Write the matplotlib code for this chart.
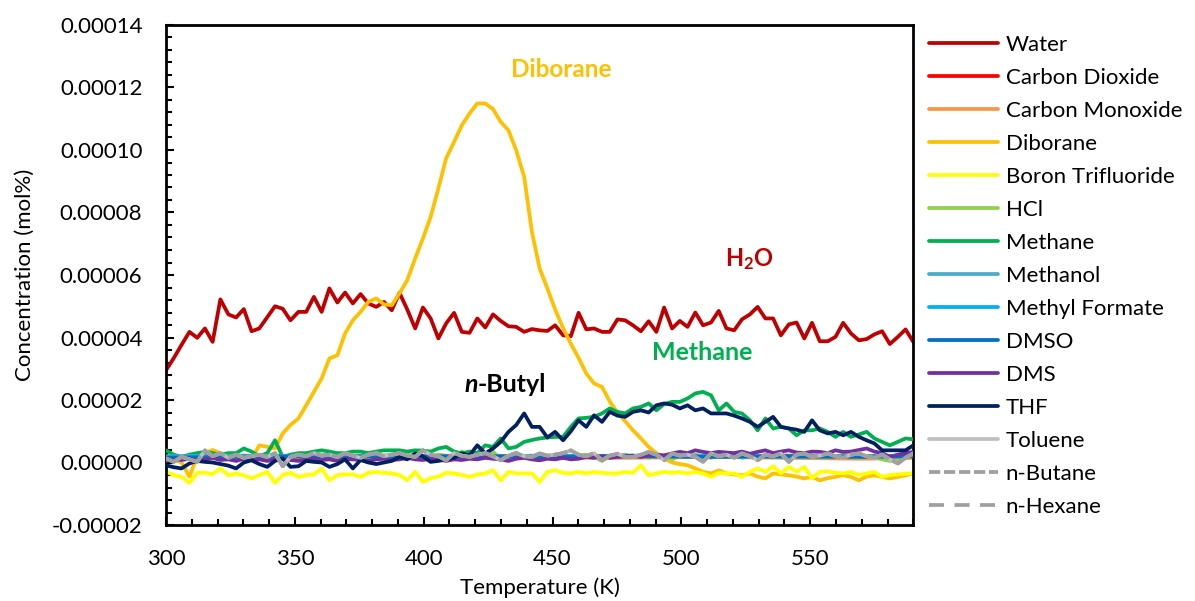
import numpy as np
import matplotlib
matplotlib.use('Agg')
import matplotlib.pyplot as plt
from matplotlib.ticker import MultipleLocator, FuncFormatter

plt.rcParams['font.family'] = ['Lato', 'DejaVu Sans']
plt.rcParams['mathtext.fontset'] = 'custom'
plt.rcParams['mathtext.rm'] = 'Lato'
plt.rcParams['mathtext.bf'] = 'Lato:bold'
plt.rcParams['mathtext.it'] = 'Lato:italic'

# Temperature grid (K)
TEMPERATURE = [
    300.0, 303.0, 306.0, 309.1, 312.1, 315.1, 318.1, 321.1, 324.2, 327.2,
    330.2, 333.2, 336.2, 339.3, 342.3, 345.3, 348.3, 351.4, 354.4, 357.4,
    360.4, 363.4, 366.5, 369.5, 372.5, 375.5, 378.5, 381.6, 384.6, 387.6,
    390.6, 393.6, 396.7, 399.7, 402.7, 405.7, 408.7, 411.8, 414.8, 417.8,
    420.8, 423.9, 426.9, 429.9, 432.9, 435.9, 439.0, 442.0, 445.0, 448.0,
    451.0, 454.1, 457.1, 460.1, 463.1, 466.1, 469.2, 472.2, 475.2, 478.2,
    481.2, 484.3, 487.3, 490.3, 493.3, 496.4, 499.4, 502.4, 505.4, 508.4,
    511.5, 514.5, 517.5, 520.5, 523.5, 526.6, 529.6, 532.6, 535.6, 538.6,
    541.7, 544.7, 547.7, 550.7, 553.7, 556.8, 559.8, 562.8, 565.8, 568.9,
    571.9, 574.9, 577.9, 580.9, 584.0, 587.0, 590.0]

# Concentrations in units of 1e-5 mol%
WATER = [
    2.95, 3.34, 3.76, 4.18, 3.99, 4.29, 3.86, 5.22, 4.74, 4.64,
    4.91, 4.20, 4.29, 4.65, 5.00, 4.92, 4.55, 4.82, 4.82, 5.30,
    4.82, 5.57, 5.12, 5.44, 5.09, 5.39, 5.09, 4.98, 5.14, 4.87,
    5.43, 4.90, 4.29, 4.96, 4.61, 3.97, 4.45, 4.79, 4.18, 4.15,
    4.61, 4.32, 4.74, 4.53, 4.36, 4.34, 4.18, 4.27, 4.23, 4.21,
    4.39, 4.07, 4.04, 4.79, 4.26, 4.29, 4.18, 4.18, 4.58, 4.55,
    4.39, 4.20, 4.52, 4.18, 4.96, 4.29, 4.53, 4.34, 4.80, 4.39,
    4.48, 4.85, 4.29, 4.23, 4.58, 4.74, 4.98, 4.61, 4.61, 4.07,
    4.42, 4.48, 3.97, 4.47, 3.88, 3.88, 4.02, 4.47, 4.13, 3.91,
    3.95, 4.10, 4.20, 3.79, 4.02, 4.26, 3.86]

DIBORANE = [
    0.30, 0.10, 0.00, -0.45, 0.20, 0.30, 0.40, 0.30, 0.20, 0.10,
    0.10, 0.10, 0.55, 0.50, 0.45, 0.93, 1.20, 1.41, 1.83, 2.26,
    2.69, 3.33, 3.43, 4.13, 4.55, 4.82, 5.14, 5.25, 5.06, 5.03,
    5.41, 5.83, 6.53, 7.17, 7.86, 8.77, 9.73, 10.26, 10.79, 11.17,
    11.49, 11.49, 11.31, 10.90, 10.63, 9.99, 9.14, 7.38, 6.21, 5.57,
    4.90, 4.30, 3.80, 3.35, 2.85, 2.53, 2.42, 1.95, 1.60, 1.32,
    1.03, 0.77, 0.50, 0.30, 0.13, 0.00, -0.05, -0.09, -0.19, -0.30,
    -0.35, -0.25, -0.35, -0.38, -0.41, -0.35, -0.45, -0.51, -0.35, -0.38,
    -0.41, -0.45, -0.51, -0.46, -0.57, -0.50, -0.46, -0.40, -0.46, -0.57,
    -0.45, -0.41, -0.46, -0.51, -0.46, -0.41, -0.35]

METHANE = [
    0.39, 0.25, 0.18, 0.25, 0.30, 0.34, 0.30, 0.25, 0.30, 0.30,
    0.45, 0.35, 0.20, 0.30, 0.71, 0.18, 0.25, 0.30, 0.30, 0.35,
    0.39, 0.35, 0.30, 0.30, 0.35, 0.35, 0.30, 0.35, 0.39, 0.39,
    0.39, 0.35, 0.39, 0.38, 0.35, 0.45, 0.50, 0.35, 0.29, 0.35,
    0.30, 0.55, 0.50, 0.77, 0.45, 0.50, 0.66, 0.72, 0.77, 0.80,
    0.82, 0.82, 1.14, 1.41, 1.43, 1.46, 1.57, 1.73, 1.62, 1.57,
    1.73, 1.78, 1.89, 1.67, 1.87, 1.94, 1.94, 2.05, 2.21, 2.26,
    2.15, 1.67, 1.89, 1.62, 1.57, 1.35, 1.03, 1.41, 1.09, 1.14,
    1.09, 0.87, 1.03, 1.03, 1.09, 0.98, 0.82, 0.98, 0.82, 0.90,
    0.98, 0.77, 0.66, 0.55, 0.66, 0.77, 0.74]

THF = [
    -0.09, -0.15, -0.19, -0.03, 0.05, 0.02, 0.00, -0.05, -0.10, -0.19,
    0.00, 0.07, -0.05, -0.14, 0.05, 0.13, -0.14, -0.12, 0.05, 0.02,
    0.00, -0.14, -0.05, 0.10, -0.19, 0.08, 0.00, -0.05, 0.00, 0.05,
    0.18, 0.10, 0.29, 0.20, 0.02, 0.05, 0.10, 0.15, 0.29, 0.23,
    0.55, 0.29, 0.45, 0.66, 0.98, 1.20, 1.57, 1.14, 1.14, 0.80,
    0.98, 0.71, 1.00, 1.35, 1.14, 1.51, 1.30, 1.62, 1.50, 1.46,
    1.62, 1.67, 1.60, 1.83, 1.89, 1.85, 1.73, 1.83, 1.67, 1.73,
    1.57, 1.57, 1.57, 1.50, 1.41, 1.30, 1.14, 1.30, 1.46, 1.14,
    1.09, 1.05, 0.98, 1.35, 1.03, 0.93, 0.98, 0.87, 0.98, 0.82,
    0.71, 0.61, 0.39, 0.39, 0.39, 0.39, 0.55]

BORON_TRIFLUORIDE = [
    -0.30, -0.40, -0.46, -0.65, -0.33, -0.33, -0.37, -0.19, -0.41, -0.35,
    -0.41, -0.51, -0.40, -0.30, -0.65, -0.40, -0.33, -0.46, -0.40, -0.38,
    -0.19, -0.57, -0.40, -0.38, -0.38, -0.46, -0.33, -0.30, -0.33, -0.35,
    -0.40, -0.57, -0.30, -0.62, -0.50, -0.45, -0.33, -0.35, -0.40, -0.46,
    -0.38, -0.35, -0.25, -0.57, -0.30, -0.35, -0.35, -0.35, -0.62, -0.30,
    -0.25, -0.33, -0.35, -0.30, -0.35, -0.30, -0.33, -0.35, -0.35, -0.30,
    -0.33, -0.09, -0.41, -0.35, -0.30, -0.33, -0.30, -0.35, -0.30, -0.35,
    -0.46, -0.33, -0.35, -0.35, -0.46, -0.30, -0.19, -0.30, -0.12, -0.35,
    -0.14, -0.30, -0.14, -0.51, -0.30, -0.28, -0.33, -0.35, -0.30, -0.40,
    -0.35, -0.30, -0.46, -0.40, -0.38, -0.36, -0.35]

DMS = [
    0.05, 0.10, 0.08, 0.12, 0.05, 0.10, 0.15, 0.08, 0.10, 0.05,
    0.12, 0.08, 0.10, 0.05, 0.10, 0.12, 0.08, 0.05, 0.10, 0.12,
    0.08, 0.10, 0.05, 0.12, 0.10, 0.08, 0.05, 0.10, 0.12, 0.08,
    0.10, 0.15, 0.10, 0.08, 0.12, 0.10, 0.05, 0.10, 0.08, 0.12,
    0.10, 0.15, 0.12, 0.10, 0.05, 0.12, 0.15, 0.10, 0.07, 0.12,
    0.10, 0.15, 0.10, 0.12, 0.18, 0.15, 0.20, 0.15, 0.18, 0.20,
    0.22, 0.18, 0.23, 0.25, 0.23, 0.29, 0.34, 0.30, 0.39, 0.34,
    0.30, 0.34, 0.32, 0.30, 0.35, 0.28, 0.34, 0.39, 0.30, 0.35,
    0.39, 0.32, 0.30, 0.35, 0.34, 0.30, 0.39, 0.34, 0.35, 0.40,
    0.45, 0.35, 0.30, 0.18, 0.25, 0.30, 0.34]

TOLUENE = [
    0.13, 0.02, 0.18, 0.10, 0.02, 0.39, 0.20, 0.30, 0.15, 0.25,
    0.15, 0.20, 0.25, 0.18, 0.30, -0.12, 0.18, 0.25, 0.20, 0.30,
    0.22, 0.25, 0.18, 0.30, 0.22, 0.15, 0.25, 0.30, 0.20, 0.25,
    0.30, 0.22, 0.18, 0.39, 0.25, 0.20, 0.07, 0.30, 0.22, 0.18,
    0.25, 0.30, 0.20, 0.07, 0.22, 0.30, 0.20, 0.18, 0.29, 0.22,
    0.25, 0.30, 0.39, 0.25, 0.20, 0.30, 0.07, 0.22, 0.28, 0.18,
    0.18, 0.25, 0.34, 0.25, 0.07, 0.29, 0.22, 0.25, 0.18, 0.02,
    0.29, 0.20, 0.25, 0.15, 0.29, 0.20, 0.07, 0.25, 0.20, 0.29,
    0.02, 0.25, 0.29, 0.18, 0.22, 0.29, 0.20, 0.15, 0.25, 0.29,
    0.20, 0.15, 0.25, 0.10, -0.03, 0.15, 0.29]

HCL = [
    0.20, 0.15, 0.10, 0.22, 0.25, 0.18, 0.22, 0.20, 0.15, 0.20,
    0.22, 0.18, 0.20, 0.25, 0.20, 0.18, 0.22, 0.20, 0.25, 0.20,
    0.18, 0.22, 0.25, 0.20, 0.18, 0.22, 0.25, 0.20, 0.22, 0.25,
    0.22, 0.25, 0.20, 0.22, 0.18, 0.25, 0.22, 0.20, 0.35, 0.25,
    0.20, 0.18, 0.35, 0.10, 0.15, 0.25, 0.20, 0.22, 0.15, 0.18,
    0.25, 0.20, 0.15, 0.22, 0.25, 0.18, 0.05, 0.20, 0.22, 0.25,
    0.18, 0.22, 0.15, 0.25, 0.20, 0.10, 0.22, 0.18, 0.25, 0.20,
    0.15, 0.22, 0.18, 0.25, 0.15, 0.20, 0.22, 0.18, 0.25, 0.20,
    0.15, 0.22, 0.25, 0.20, 0.15, 0.22, 0.18, 0.25, 0.20, 0.15,
    0.22, 0.18, 0.10, 0.05, 0.10, 0.18, 0.25]

N_BUTANE = TOLUENE
N_HEXANE = TOLUENE

# Minor species (mostly hidden beneath the baseline cluster)
T_MINOR = [300, 330, 360, 390, 420, 450, 480, 510, 540, 570, 590]
CARBON_DIOXIDE = [0.15, 0.20, 0.18, 0.20, 0.22, 0.20, 0.18, 0.20, 0.22, 0.20, 0.20]
CARBON_MONOXIDE = [0.10, 0.15, 0.12, 0.15, 0.18, 0.15, 0.15, 0.18, 0.15, 0.12, 0.15]
METHANOL = [0.20, 0.22, 0.20, 0.22, 0.20, 0.22, 0.20, 0.22, 0.20, 0.20, 0.22]
METHYL_FORMATE = [0.18, 0.20, 0.22, 0.20, 0.18, 0.20, 0.22, 0.20, 0.18, 0.20, 0.20]
DMSO = [0.15, 0.18, 0.20, 0.18, 0.20, 0.18, 0.20, 0.18, 0.20, 0.18, 0.20]

SCALE = 1e-5

SERIES = [
    ('Water', TEMPERATURE, WATER, '#C00000', '-'),
    ('Carbon Dioxide', T_MINOR, CARBON_DIOXIDE, '#FF0000', '-'),
    ('Carbon Monoxide', T_MINOR, CARBON_MONOXIDE, '#F79646', '-'),
    ('Diborane', TEMPERATURE, DIBORANE, '#FFC000', '-'),
    ('Boron Trifluoride', TEMPERATURE, BORON_TRIFLUORIDE, '#FFFF00', '-'),
    ('HCl', TEMPERATURE, HCL, '#92D050', '-'),
    ('Methane', TEMPERATURE, METHANE, '#00B050', '-'),
    ('Methanol', T_MINOR, METHANOL, '#4BACC6', '-'),
    ('Methyl Formate', T_MINOR, METHYL_FORMATE, '#00B0F0', '-'),
    ('DMSO', T_MINOR, DMSO, '#0070C0', '-'),
    ('DMS', TEMPERATURE, DMS, '#7030A0', '-'),
    ('THF', TEMPERATURE, THF, '#002060', '-'),
    ('Toluene', TEMPERATURE, TOLUENE, '#BFBFBF', '-'),
    ('n-Butane', TEMPERATURE, N_BUTANE, '#A0A0A0', (0, (3.0, 1.0))),
    ('n-Hexane', TEMPERATURE, N_HEXANE, '#A0A0A0', (0, (4.0, 2.8))),
]

W, H = 1195, 601
fig = plt.figure(figsize=(W / 100, H / 100), dpi=100)
ax = fig.add_axes([166 / W, 1 - 525 / H, (913.3 - 166) / W, (525 - 25) / H])

handles = []
for i, (name, t, vals, color, ls) in enumerate(SERIES):
    ln, = ax.plot(t, np.array(vals) * SCALE, color=color, lw=2.7,
                  linestyle=ls, label=name, zorder=2 + i * 0.1,
                  solid_joinstyle='round', solid_capstyle='round')
    handles.append(ln)

ax.set_xlim(300, 590)
ax.set_ylim(-0.00002, 0.00014)
ax.xaxis.set_major_locator(MultipleLocator(50))
ax.xaxis.set_minor_locator(MultipleLocator(10))
ax.yaxis.set_major_locator(MultipleLocator(0.00002))
ax.yaxis.set_minor_locator(MultipleLocator(0.000004))
ax.yaxis.set_major_formatter(FuncFormatter(lambda v, p: f"{v:.5f}" if abs(v) > 1e-12 else "0.00000"))
ax.tick_params(which='both', direction='in', width=1.5, labelsize=16, colors='black',
               top=False, right=False)
ax.tick_params(which='major', length=6, pad=17)
ax.tick_params(which='minor', length=4.5)
for s in ax.spines.values():
    s.set_linewidth(2.0)
    s.set_color('black')

ax.set_xlabel('Temperature (K)', fontsize=16)
ax.set_ylabel('Concentration (mol%)', fontsize=16)
ax.xaxis.set_label_coords(0.5, -0.104)
ax.yaxis.set_label_coords(-0.176, 0.5)

# Annotations
ax.text(453.2, 12.59e-5, 'Diborane', color='#FFC000', fontsize=17.5,
        fontweight='bold', ha='center', va='center')
ax.text(526.5, 6.51e-5, r'$\mathbf{H_2O}$', color='#C00000', fontsize=17,
        ha='center', va='center')
ax.text(507.9, 3.53e-5, 'Methane', color='#00B050', fontsize=18,
        fontweight='bold', ha='center', va='center')
ax.text(421.0, 2.51e-5, 'n', color='black', fontsize=18, fontweight='bold',
        fontstyle='italic', ha='right', va='center')
ax.text(421.0, 2.51e-5, '-Butyl', color='black', fontsize=18, fontweight='bold',
        ha='left', va='center')

fig.legend(handles=handles, labels=[h.get_label() for h in handles],
           loc='upper left', bbox_to_anchor=(929 / W, 1 - 35 / H),
           frameon=False, fontsize=16, handlelength=3.1, handletextpad=0.35,
           labelspacing=0.585, borderpad=0, borderaxespad=0)

fig.savefig('out.png', dpi=100)
